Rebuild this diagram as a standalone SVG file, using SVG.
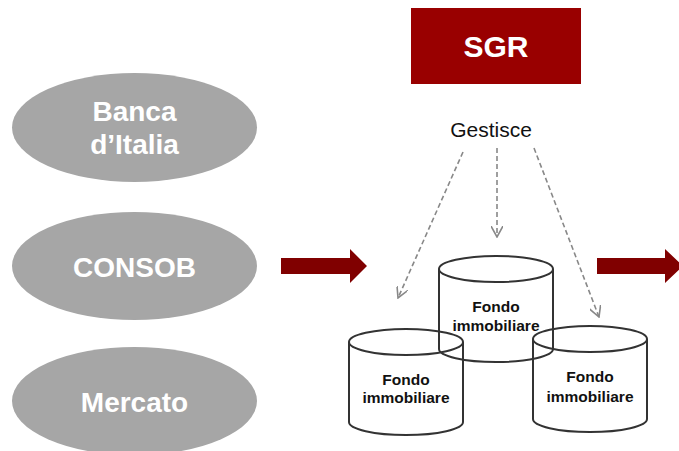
<svg xmlns="http://www.w3.org/2000/svg" width="679" height="451" viewBox="0 0 679 451">
<style>
.oval{fill:#a6a6a6;}
.ot{font-family:"Liberation Sans",Arial,sans-serif;font-weight:bold;font-size:28px;fill:#fff;text-anchor:middle;}
.cyl{fill:none;stroke:#333;stroke-width:2;}
.ct{font-family:"Liberation Sans",Arial,sans-serif;font-weight:bold;font-size:15.5px;fill:#111;text-anchor:middle;}
.dash{fill:none;stroke:#888;stroke-width:1.6;stroke-dasharray:5,3;}
.big{fill:#800000;}
</style>
<defs>
<marker id="v" viewBox="0 0 12 12" refX="11" refY="6" markerWidth="12" markerHeight="12" markerUnits="userSpaceOnUse" orient="auto">
<path d="M0,0 L11,6 L0,12" fill="none" stroke="#888" stroke-width="1.6"/>
</marker>
</defs>
<rect width="679" height="451" fill="#fff"/>
<g id="banca">
<ellipse class="oval" cx="134.5" cy="127.5" rx="122.5" ry="54.5"/>
<text class="ot" x="134.5" y="121">Banca</text>
<text class="ot" x="134.5" y="154">d’Italia</text>
</g>
<g id="consob">
<ellipse class="oval" cx="134.5" cy="266" rx="122.5" ry="54"/>
<text class="ot" x="134.5" y="277">CONSOB</text>
</g>
<g id="mercato">
<ellipse class="oval" cx="134.5" cy="401" rx="122.5" ry="54"/>
<text class="ot" x="134.5" y="412">Mercato</text>
</g>
<g id="sgr">
<rect x="411" y="8" width="170" height="76" fill="#990000"/>
<text x="496" y="57" font-family="Liberation Sans,Arial,sans-serif" font-weight="bold" font-size="30" fill="#fff" text-anchor="middle">SGR</text>
</g>
<g id="gestisce">
<text x="491" y="137" font-family="Liberation Sans,Arial,sans-serif" font-size="21" fill="#111" text-anchor="middle">Gestisce</text>
</g>
<g id="fondo-center">
<path class="cyl" d="M439,269 V349 A57,13 0 0 0 553,349 V269"/>
<ellipse class="cyl" cx="496" cy="269" rx="57" ry="13"/>
<text class="ct" x="496" y="312">Fondo</text>
<text class="ct" x="496" y="331">immobiliare</text>
</g>
<g id="fondo-left">
<path class="cyl" d="M349,342 V422 A57,13 0 0 0 463,422 V342"/>
<ellipse class="cyl" cx="406" cy="342" rx="57" ry="13"/>
<text class="ct" x="406" y="385">Fondo</text>
<text class="ct" x="406" y="403">immobiliare</text>
</g>
<g id="fondo-right">
<path class="cyl" d="M533,339 V419 A57,13 0 0 0 647,419 V339"/>
<ellipse class="cyl" cx="590" cy="339" rx="57" ry="13"/>
<text class="ct" x="590" y="382">Fondo</text>
<text class="ct" x="590" y="402">immobiliare</text>
</g>
<g id="connectors">
<line class="dash" x1="463" y1="152" x2="398" y2="298" marker-end="url(#v)"/>
<line class="dash" x1="497" y1="148" x2="497" y2="237" marker-end="url(#v)"/>
<line class="dash" x1="534" y1="148" x2="599" y2="317" marker-end="url(#v)"/>
<path class="big" d="M281,258 H350 V249 L367,266 L350,283 V274 H281 Z"/>
<path class="big" d="M597,258 H665 V249 L683,266 L665,283 V274 H597 Z"/>
</g>
</svg>
